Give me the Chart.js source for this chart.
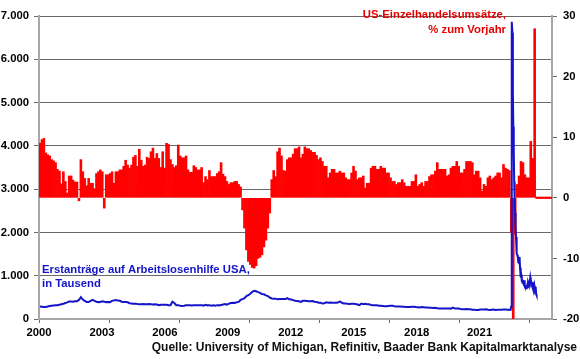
<!DOCTYPE html>
<html><head><meta charset="utf-8">
<script src="https://cdn.jsdelivr.net/npm/chart.js@4.4.0/dist/chart.umd.min.js"></script>
<style>html,body{margin:0;padding:0;background:#fff}#wrap{width:580px;height:359px;position:relative}</style>
</head><body><div id="wrap"><canvas id="c"></canvas></div>
<script>
// US retail sales, % yoy, monthly from Jan 2000 (rows = years 2000..2021)
const retailStartYear = 2000;
const retailYoY = [
  9.0, 9.6, 9.8, 7.4, 7.1, 6.9, 6.3, 6.1, 5.8, 4.7, 4.4, 2.3,
  4.3, 2.7, 0.8, 3.6, 3.6, 2.9, 2.6, 2.6, -0.5, 6.3, 4.3, 3.2,
  2.0, 3.2, 2.4, 2.4, 1.5, 4.0, 4.3, 4.6, 4.3, -1.7, 3.8, 3.8,
  4.0, 4.3, 2.4, 4.3, 4.3, 4.6, 4.6, 5.2, 6.2, 5.4, 4.9, 5.4,
  6.7, 7.0, 5.2, 8.0, 6.2, 5.2, 5.4, 6.7, 6.5, 7.6, 8.2, 6.5,
  7.3, 6.5, 5.0, 7.6, 4.9, 9.0, 8.8, 6.3, 5.5, 5.0, 5.3, 8.7,
  6.9, 6.6, 6.6, 6.9, 4.6, 4.2, 4.2, 5.3, 5.0, 4.6, 4.6, 5.0,
  2.5, 3.5, 3.0, 4.5, 3.5, 3.5, 3.5, 4.0, 4.3, 5.8, 3.9, 3.5,
  2.7, 2.2, 2.5, 2.5, 2.7, 2.7, 2.2, 1.8, -2.0, -5.0, -8.6, -10.5,
  -11.0, -11.5, -11.6, -11.2, -10.0, -9.8, -9.4, -8.1, -7.0, -5.0, -2.5, 3.0,
  4.5, 3.5, 7.6, 8.2, 6.9, 4.5, 4.4, 6.3, 6.6, 6.6, 7.2, 8.1,
  8.1, 8.4, 6.6, 7.2, 8.4, 8.1, 8.1, 7.8, 7.5, 7.5, 7.0, 6.3,
  6.6, 6.0, 5.2, 5.2, 3.3, 4.1, 4.7, 4.7, 4.1, 4.1, 4.4, 4.1,
  4.1, 3.3, 3.0, 3.0, 4.1, 5.2, 4.4, 3.0, 3.3, 3.3, 3.6, 1.6,
  2.4, 2.4, 4.9, 5.2, 5.2, 4.7, 4.7, 5.2, 4.9, 4.9, 4.1, 4.1,
  3.3, 2.7, 2.7, 2.2, 2.5, 2.5, 3.0, 2.5, 1.9, 1.9, 1.9, 2.7,
  2.7, 3.8, 1.9, 2.2, 2.5, 1.9, 2.7, 2.7, 3.5, 3.8, 3.8, 4.4,
  5.8, 4.7, 4.7, 4.7, 4.7, 3.6, 3.8, 4.9, 5.2, 5.2, 6.0, 5.2,
  4.1, 4.1, 4.7, 6.0, 6.0, 6.0, 5.8, 3.8, 4.4, 4.4, 3.3, 1.1,
  2.2, 1.9, 3.3, 3.6, 3.0, 3.3, 3.6, 4.1, 4.1, 3.3, 5.5, 4.9,
  4.7, 4.5, -5.7, -21.0, -6.0, 2.2, 3.6, 6.0, 5.8, 3.8, 3.3, 3.3,
  9.3, 6.5, 27.9, 0, 0, 0, 0, 0, 0, 0, 0, 0
];

// Initial jobless claims (thousands), monthly Jan 2000 .. Feb 2020
const claimsMonthly = [
  290, 285, 280, 280, 290, 300, 305, 310, 315, 320, 330, 340,
  350, 370, 385, 405, 405, 400, 410, 410, 440, 505, 450, 420,
  390, 390, 420, 440, 420, 400, 390, 395, 410, 400, 390, 395,
  390, 420, 430, 440, 425, 420, 400, 395, 390, 385, 365, 360,
  355, 355, 345, 340, 340, 345, 340, 340, 345, 340, 335, 340,
  335, 320, 330, 330, 330, 330, 320, 320, 400, 370, 320, 320,
  305, 300, 305, 315, 315, 315, 310, 315, 320, 315, 320, 320,
  310, 330, 315, 320, 305, 315, 305, 320, 315, 325, 335, 345,
  330, 355, 370, 375, 370, 385, 395, 440, 460, 480, 530, 550,
  585, 630, 650, 640, 620, 605, 575, 570, 545, 530, 495, 475,
  470, 470, 455, 460, 460, 460, 460, 480, 455, 450, 435, 420,
  415, 410, 395, 420, 420, 415, 410, 410, 415, 400, 395, 375,
  375, 360, 365, 385, 375, 380, 375, 375, 375, 380, 405, 375,
  360, 360, 350, 345, 350, 350, 345, 335, 320, 355, 340, 350,
  340, 340, 325, 320, 315, 315, 305, 305, 300, 295, 295, 300,
  305, 305, 295, 290, 290, 290, 285, 285, 280, 280, 280, 285,
  285, 275, 270, 265, 275, 270, 265, 265, 260, 260, 255, 260,
  250, 245, 245, 245, 240, 245, 245, 240, 265, 240, 240, 240,
  230, 225, 225, 230, 225, 225, 215, 215, 210, 210, 220, 220,
  220, 225, 215, 210, 215, 220, 210, 215, 215, 215, 220, 220,
  215, 215
];

// Weekly claims from March 2020
const claimsWeeklyDates = [
  '2020-03-07','2020-03-14','2020-03-21','2020-03-28','2020-04-04','2020-04-11','2020-04-18','2020-04-25',
  '2020-05-02','2020-05-09','2020-05-16','2020-05-23','2020-05-30','2020-06-06','2020-06-13','2020-06-20',
  '2020-06-27','2020-07-04','2020-07-11','2020-07-18','2020-07-25','2020-08-01','2020-08-08','2020-08-15',
  '2020-08-22','2020-08-29','2020-09-05','2020-09-12','2020-09-19','2020-09-26','2020-10-03','2020-10-10',
  '2020-10-17','2020-10-24','2020-10-31','2020-11-07','2020-11-14','2020-11-21','2020-11-28','2020-12-05',
  '2020-12-12','2020-12-19','2020-12-26','2021-01-02','2021-01-09','2021-01-16','2021-01-23','2021-01-30',
  '2021-02-06','2021-02-13','2021-02-20','2021-02-27','2021-03-06','2021-03-13','2021-03-20','2021-03-27',
  '2021-04-03','2021-04-10','2021-04-17'
];
const claimsWeekly = [
  211, 282, 3307, 6867, 6615, 5237, 4442, 3867,
  3176, 2687, 2446, 2123, 1897, 1566, 1508, 1480,
  1427, 1314, 1300, 1416, 1434, 1186, 963, 1106,
  1006, 881, 884, 860, 870, 837, 840, 898,
  787, 751, 751, 709, 742, 778, 712, 853,
  885, 803, 787, 787, 965, 900, 847, 779,
  793, 861, 730, 745, 712, 770, 684, 719,
  744, 576, 547
];

// x-axis: tick marks every 3 years on the date axis; the year labels are spaced independently
const xTickYears = [2000, 2003, 2006, 2009, 2012, 2015, 2018, 2021];
const xTickLabels = ['2000', '2003', '2006', '2009', '2012', '2015', '2018', '2021'];
const leftTickValues = [0, 1000, 2000, 3000, 4000, 5000, 6000, 7000];
const leftTickLabels = ['0', '1.000', '2.000', '3.000', '4.000', '5.000', '6.000', '7.000'];
const rightTickValues = [-20, -10, 0, 10, 20, 30];
const rightTickLabels = ['-20', '-10', '0', '10', '20', '30'];

const titleClaims = ['Erstanträge auf Arbeitslosenhilfe USA,', 'in Tausend'];
const titleRetail = ['US-Einzelhandelsumsätze,', '% zum Vorjahr'];
const sourceText = 'Quelle: University of Michigan, Refinitiv, Baader Bank Kapitalmarktanalyse';

// ---- build data ----
function decYear(iso) {
  const [y, m, d] = iso.split('-').map(Number);
  const t = Date.UTC(y, m - 1, d), a = Date.UTC(y, 0, 1), b = Date.UTC(y + 1, 0, 1);
  return y + (t - a) / (b - a);
}
const monthX = i => retailStartYear + (i + 0.5) / 12;
const retailData = retailYoY.map((v, i) => ({ x: monthX(i), y: v }));
const claimsData = claimsMonthly.map((v, i) => ({ x: monthX(i), y: v }))
  .concat(claimsWeekly.map((v, i) => ({ x: decYear(claimsWeeklyDates[i]), y: v })));
const labelSlots = xTickLabels.map((_, i) => i);

const FONT = '"Liberation Sans", Arial, Helvetica, sans-serif';
const BLUE = '#1414c8', RED = '#ff0000', GRID = '#6a6a6a', AXIS = '#a8a8a8';
Chart.defaults.font.family = FONT;
Chart.defaults.font.weight = 'bold';
Chart.defaults.font.size = 11.3;
Chart.defaults.color = '#000';

const textPlugin = {
  id: 'texts',
  afterDraw(chart) {
    const c = chart.ctx;
    c.save();
    c.font = 'bold 11.3px ' + FONT;
    c.textBaseline = 'middle';
    c.textAlign = 'left';
    c.fillStyle = BLUE;
    c.fillText(titleClaims[0], 42, 270);
    c.fillText(titleClaims[1], 42, 284);
    c.textAlign = 'right';
    c.fillStyle = '#e80000';
    c.fillText(titleRetail[0], 506, 15);
    c.fillText(titleRetail[1], 506, 30);
    c.fillStyle = '#111';
    c.font = 'bold 12px ' + FONT;
    c.fillText(sourceText, 577, 348);
    c.restore();
  }
};

new Chart(document.getElementById('c'), {
  type: 'bar',
  data: {
    datasets: [
      {
        type: 'line', label: 'claims', data: claimsData, xAxisID: 'x', yAxisID: 'y',
        borderColor: BLUE, borderWidth: 2, pointRadius: 0, tension: 0, fill: false, order: 1
      },
      {
        type: 'bar', label: 'retail', data: retailData, xAxisID: 'x', yAxisID: 'y1',
        backgroundColor: RED, borderWidth: 0, barPercentage: 1, categoryPercentage: 1,
        minBarLength: 1.5, order: 2
      }
    ]
  },
  options: {
    responsive: true, maintainAspectRatio: false, animation: false, devicePixelRatio: 1,
    layout: { padding: { top: 16, left: 0, right: 0, bottom: 0 } },
    plugins: { legend: { display: false }, tooltip: { enabled: false } },
    scales: {
      x: {
        type: 'linear', position: 'bottom', min: 2000, max: 2021.95, offset: false,
        afterBuildTicks: s => { s.ticks = xTickYears.map(v => ({ value: v })); },
        afterFit: s => { s.height = 4; },
        ticks: { display: false },
        grid: { offset: false, drawOnChartArea: false, drawTicks: true, tickLength: 4, tickColor: GRID },
        border: { color: AXIS, width: 2 }
      },
      xl: {
        type: 'linear', position: 'bottom', min: 0, max: 8.15, offset: false,
        afterBuildTicks: s => { s.ticks = labelSlots.map(v => ({ value: v })); },
        afterFit: s => { s.height = 36; },
        ticks: { callback: v => xTickLabels[v], padding: 3, maxRotation: 0, autoSkip: false, color: '#000' },
        grid: { display: false, drawTicks: false, tickLength: 0 },
        border: { display: false }
      },
      y: {
        type: 'linear', position: 'left', min: 0, max: 7000,
        afterBuildTicks: s => { s.ticks = leftTickValues.map(v => ({ value: v })); },
        afterFit: s => { s.width = 39; },
        ticks: { callback: v => leftTickLabels[leftTickValues.indexOf(v)], padding: 5, color: '#000' },
        grid: {
          color: ctx => (ctx.tick && ctx.tick.value === 0) ? 'rgba(0,0,0,0)' : GRID,
          tickColor: GRID, tickLength: 5, lineWidth: 1
        },
        border: { color: AXIS, width: 2 }
      },
      y1: {
        type: 'linear', position: 'right', min: -20, max: 30,
        afterBuildTicks: s => { s.ticks = rightTickValues.map(v => ({ value: v })); },
        afterFit: s => { s.width = 28; },
        ticks: { callback: v => rightTickLabels[rightTickValues.indexOf(v)], padding: 6, color: '#000' },
        grid: { drawOnChartArea: false, tickColor: GRID, tickLength: 5 },
        border: { color: AXIS, width: 2 }
      }
    }
  },
  plugins: [textPlugin]
});
</script>
</body></html>
